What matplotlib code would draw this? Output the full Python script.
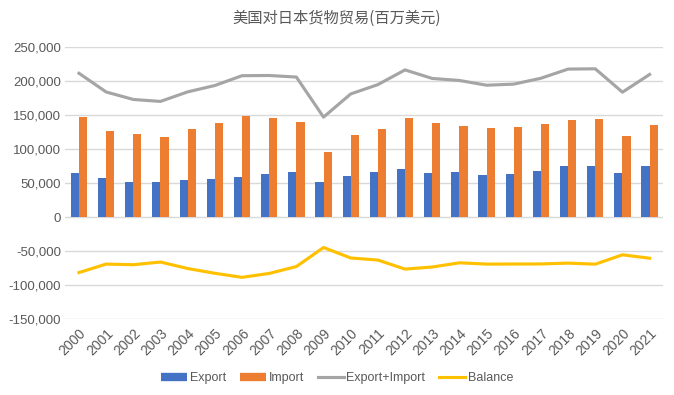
import matplotlib

matplotlib.use("Agg")
import matplotlib.pyplot as plt
import numpy as np
from matplotlib.lines import Line2D
from matplotlib.ticker import FuncFormatter

plt.rcParams["font.family"] = ["Liberation Sans", "Noto Sans CJK SC", "DejaVu Sans"]

years = [str(y) for y in range(2000, 2022)]
export = [64924, 57452, 51440, 52004, 54243, 55410, 59649, 62665, 66579, 51134, 60472,
          65800, 69964, 65206, 66827, 62388, 63236, 67605, 74967, 74377, 64098, 74609]
imports = [146479, 126473, 121429, 118037, 129805, 138004, 148181, 145463, 139262, 95804, 120552,
           128928, 146388, 138573, 134004, 131446, 132202, 136481, 142596, 143575, 119514, 135035]
total = [211403, 183925, 172869, 170041, 184048, 193414, 207830, 208128, 205841, 146938, 181024,
         194728, 216352, 203779, 200831, 193834, 195438, 204086, 217563, 217952, 183612, 209644]
balance = [-81555, -69021, -69989, -66033, -75562, -82594, -88532, -82798, -72683, -44670, -60080,
           -63128, -76424, -73367, -67177, -69058, -68966, -68876, -67629, -69198, -55416, -60426]

text_color = "#595959"
c_exp, c_imp, c_tot, c_bal = "#4472C4", "#ED7D31", "#A5A5A5", "#FFC000"

fig = plt.figure(figsize=(6.74, 3.95), dpi=100)
ax = fig.add_axes([0.097, 0.192, 0.887, 0.689])

x = np.arange(len(years))
w = 0.3
ax.bar(x - w / 2, export, width=w, color=c_exp, zorder=3)
ax.bar(x + w / 2, imports, width=w, color=c_imp, zorder=3)
ax.plot(x, total, color=c_tot, linewidth=2.25, zorder=4)
ax.plot(x, balance, color=c_bal, linewidth=2.25, zorder=4)

ax.set_xlim(-0.5, len(years) - 0.5)
ax.set_ylim(-150000, 250000)
ax.set_yticks(np.arange(-150000, 250001, 50000))
ax.yaxis.set_major_formatter(FuncFormatter(lambda v, p: f"{int(v):,}"))
ax.set_xticks(x)
ax.set_xticklabels(years, rotation=45, ha="right", rotation_mode="anchor")
ax.tick_params(axis="both", length=0, labelsize=9.5, colors=text_color)
ax.tick_params(axis="y", pad=3)
ax.tick_params(axis="x", pad=5, labelsize=10)
ax.grid(axis="y", color="#D9D9D9", linewidth=1, zorder=0)
for s in ax.spines.values():
    s.set_visible(False)

fig.suptitle("美国对日本货物贸易(百万美元)", x=0.5, y=0.975, fontsize=11,
             color=text_color, family=["Noto Sans CJK SC", "DejaVu Sans"])

handles = [
    Line2D([], [], color=c_exp, linewidth=6, solid_capstyle="butt"),
    Line2D([], [], color=c_imp, linewidth=6, solid_capstyle="butt"),
    Line2D([], [], color=c_tot, linewidth=2.25),
    Line2D([], [], color=c_bal, linewidth=2.25),
]
fig.legend(handles, ["Export", "Import", "Export+Import", "Balance"],
           loc="center", bbox_to_anchor=(0.5, 0.043), ncol=4, frameon=False,
           fontsize=9, labelcolor=text_color, handlelength=2.1, columnspacing=1.1,
           handletextpad=0.2)

fig.savefig("out.png", dpi=100)
